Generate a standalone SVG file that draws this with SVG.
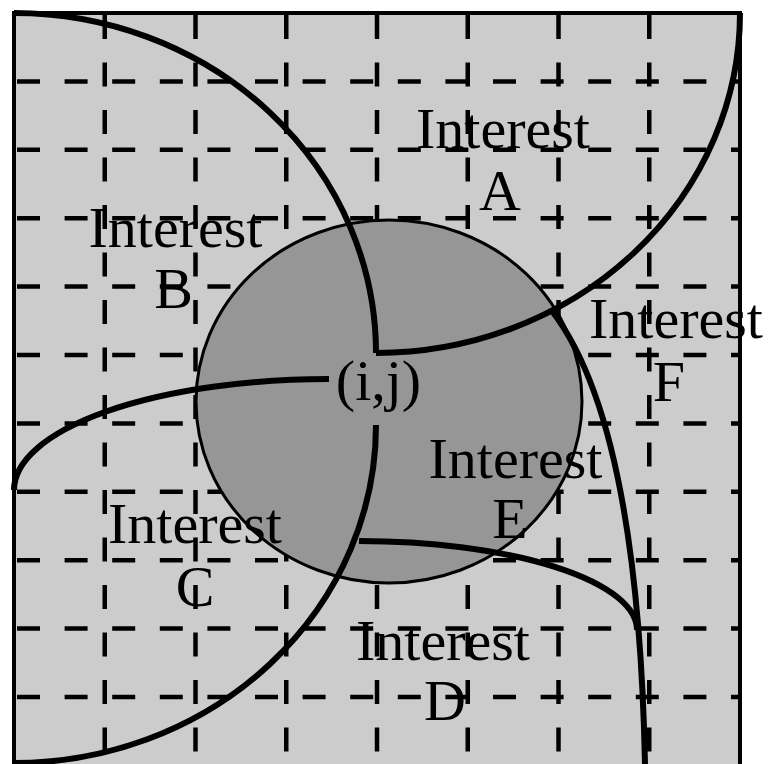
<svg xmlns="http://www.w3.org/2000/svg" width="768" height="764" viewBox="0 0 768 764">
<style>
.hg{stroke:#000;stroke-width:4.5;stroke-dasharray:23 24.6;fill:none}
.vg{stroke:#000;stroke-width:4.5;stroke-dasharray:24 23.5;fill:none}
.cv{stroke:#000;stroke-width:6;fill:none}
.lb{font-family:"Liberation Serif","Times New Roman",serif;font-size:58px;fill:#000;text-anchor:middle}
</style>
<rect width="768" height="764" fill="#fff"/>
<g id="frame">
<rect x="14" y="13" width="726" height="770" fill="#cccccc" stroke="#000" stroke-width="4"/>
</g>
<g id="grid">
<path class="hg" d="M17,81.4H738M17,149.8H738M17,218.2H738M17,286.6H738M17,355H738M17,423.4H738M17,491.8H738M17,560.2H738M17,628.6H738M17,697H738"/>
<path class="vg" d="M104.75,15V764M195.5,15V764M286.25,15V764M377,15V764M467.75,15V764M558.5,15V764M649.25,15V764"/>
</g>
<g id="neighbourhood">
<ellipse cx="389" cy="401.5" rx="193" ry="181.5" fill="#969696" stroke="#000" stroke-width="3"/>
</g>
<g id="connectors">
<path class="cv" d="M14,13 A362,340 0 0 1 376,353"/>
<path class="cv" d="M376,353 A364,340 0 0 0 740,13"/>
<path class="cv" d="M329,379 A315,111 0 0 0 14,490"/>
<path class="cv" d="M376,425 A362,338 0 0 1 14,763"/>
<path class="cv" d="M359,541 A278,89 0 0 1 637,630"/>
<path class="cv" d="M552,311 C605,380 640,520 645,764"/>
</g>
<g id="center"><text class="lb" x="378.5" y="400">(i,j)</text></g>
<g id="interest-a"><text class="lb" x="503" y="148">Interest</text><text class="lb" x="500" y="210">A</text></g>
<g id="interest-b"><text class="lb" x="175.5" y="247">Interest</text><text class="lb" x="173.5" y="308">B</text></g>
<g id="interest-c"><text class="lb" x="195" y="543">Interest</text><text class="lb" x="195" y="606">C</text></g>
<g id="interest-d"><text class="lb" x="443" y="660">Interest</text><text class="lb" x="445" y="720">D</text></g>
<g id="interest-e"><text class="lb" x="515.5" y="478">Interest</text><text class="lb" x="510" y="538">E</text></g>
<g id="interest-f"><text class="lb" x="676" y="338">Interest</text><text class="lb" x="669" y="401">F</text></g>
</svg>
